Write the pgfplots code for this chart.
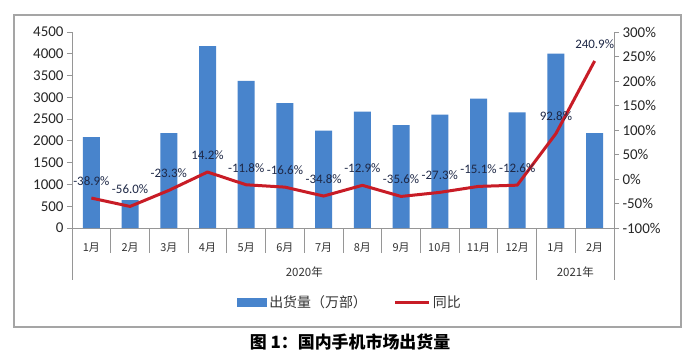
\documentclass[border=0pt]{standalone}
\usepackage{pgfplots}
\pgfplotsset{compat=1.18}
\usepackage{fontspec}
\setmainfont{Carlito}
\newfontfamily\cjk{Noto Sans CJK SC}
\definecolor{barblue}{RGB}{72,132,204}
\definecolor{linered}{RGB}{200,28,38}
\definecolor{axisgray}{RGB}{150,150,150}
\definecolor{framegray}{RGB}{165,165,165}
\definecolor{lblcol}{RGB}{30,40,70}
\begin{document}
\begin{tikzpicture}
\path[use as bounding box] (0,0) rectangle (700bp,364bp);
\fill[white] (0,0) rectangle (700bp,364bp);
\draw[framegray, line width=1.2bp] (14bp,37bp) rectangle (681bp,349bp);
\begin{axis}[
  at={(72bp,136bp)}, anchor=south west,
  scale only axis, width=542bp, height=196bp,
  xmin=-0.5, xmax=13.5, ymin=0, ymax=4500,
  axis y line*=left, axis x line*=bottom,
  axis line style={-, draw=axisgray, line width=0.8bp},
  ytick={0,500,...,4500},
  tick align=outside, major tick length=5bp,
  y tick style={draw=axisgray, line width=0.8bp},
  x tick style={draw=none},
  xtick={0,...,13},
  xticklabels={1月,2月,3月,4月,5月,6月,7月,8月,9月,10月,11月,12月,1月,2月},
  xticklabel style={font=\cjk\fontsize{11}{13}\selectfont, text=black!80},
  xticklabel shift=6bp,
  yticklabel style={font=\fontsize{15}{18}\selectfont, text=black!85},
  /pgf/number format/assume math mode=true,
  /pgf/number format/1000 sep={},
  clip=false,
  legend style={at={(0.513,-0.378)}, anchor=center, draw=none, fill=none,
    legend columns=2, font=\cjk\fontsize{14}{16}\selectfont, text=black!80,
    /tikz/every even column/.append style={column sep=25bp}},
]
\addplot[ybar, bar width=17bp, fill=barblue, draw=none,
  legend image code/.code={\fill[barblue] (0bp,-4.5bp) rectangle (30bp,4.5bp);}]
  coordinates {(0,2085.7) (1,638.2) (2,2177.2) (3,4172.9) (4,3380.7) (5,2867.6) (6,2237.2)
               (7,2672.6) (8,2359.4) (9,2605.5) (10,2969.2) (11,2652.2) (12,4002.3) (13,2176.3)};
\addlegendentry{出货量（万部）}
\addlegendimage{legend image code/.code={\draw[linered, line width=3bp] (0bp,0bp) -- (34bp,0bp);}}
\addlegendentry{同比}
\pgfplotsinvokeforeach{-0.5,0.5,1.5,2.5,3.5,4.5,5.5,6.5,7.5,8.5,9.5,10.5,11.5,12.5,13.5}{
  \draw[axisgray, line width=0.8bp] (axis cs:#1,0) -- ++(0bp,-25bp);
}
\pgfplotsinvokeforeach{-0.5,11.5,13.5}{
  \draw[axisgray, line width=0.8bp] (axis cs:#1,0) -- ++(0bp,-52bp);
}
\node[font=\cjk\fontsize{11.5}{13}\selectfont, text=black!80, yshift=-44bp] at (axis cs:5.5,0) {2020年};
\node[font=\cjk\fontsize{11.5}{13}\selectfont, text=black!80, yshift=-44bp] at (axis cs:12.5,0) {2021年};
\end{axis}
\begin{axis}[
  at={(72bp,136bp)}, anchor=south west,
  scale only axis, width=542bp, height=196bp,
  xmin=-0.5, xmax=13.5, ymin=-100, ymax=300,
  axis y line*=right, hide x axis,
  axis line style={-, draw=axisgray, line width=0.8bp},
  ytick={-100,-50,...,300},
  tick align=outside, major tick length=5bp,
  y tick style={draw=axisgray, line width=0.8bp},
  yticklabel={\pgfmathprintnumber{\tick}\%},
  yticklabel style={font=\fontsize{15}{18}\selectfont, text=black!85},
  /pgf/number format/assume math mode=true,
  clip=false,
]
\addplot[linered, line width=3bp, line join=round, mark=none,
  point meta=explicit symbolic,
  nodes near coords={\pgfplotspointmeta\%},
  every node near coord/.append style={font=\fontsize{13}{15}\selectfont, text=lblcol, anchor=center, yshift=17bp}]
  table[x=x, y=y, meta=lab] {
x y lab
0 -38.9 -38.9
1 -56.0 -56.0
2 -23.3 -23.3
3 14.2 14.2
4 -11.8 -11.8
5 -16.6 -16.6
6 -34.8 -34.8
7 -12.9 -12.9
8 -35.6 -35.6
9 -27.3 -27.3
10 -15.1 -15.1
11 -12.6 -12.6
12 92.8 92.8
13 240.9 240.9
};
\end{axis}
\node[font=\cjk\bfseries\fontsize{17}{20}\selectfont] at (350bp,22bp) {图 1：国内手机市场出货量};
\end{tikzpicture}
\end{document}
